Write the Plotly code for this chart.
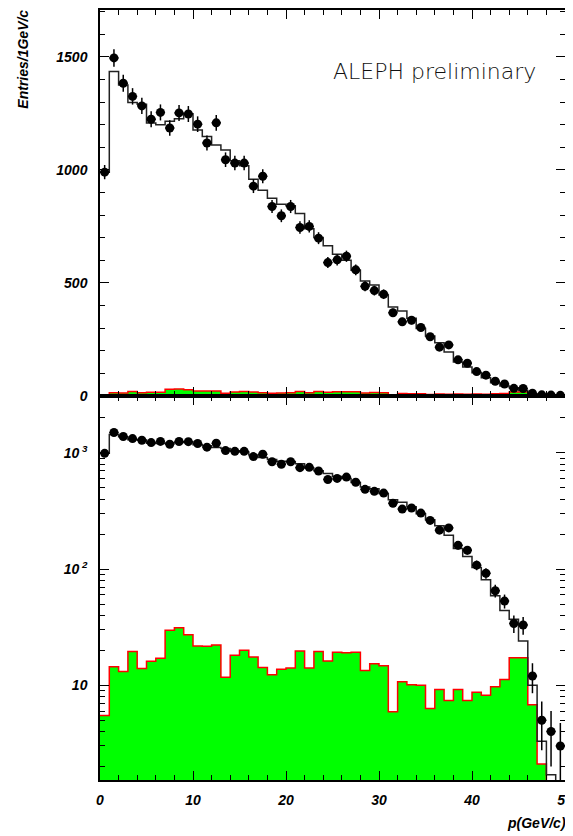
import numpy as np
import plotly.graph_objects as go

# ---- data (1 GeV/c bins, 0..50) ----
bin_edges = list(range(0, 51))
data_counts = [990, 1495, 1383, 1325, 1283, 1224, 1254, 1185, 1252, 1247,
               1202, 1119, 1208, 1045, 1030, 1030, 928, 972, 838, 797,
               838, 745, 750, 698, 590, 602, 618, 558, 485, 466,
               450, 368, 328, 335, 303, 262, 216, 226, 160, 145,
               108, 92, 65, 53, 34, 33, 12, 5, 4, 3]
mc_counts = [990, 1435, 1375, 1298, 1290, 1207, 1200, 1215, 1226, 1248,
             1176, 1148, 1110, 1088, 1040, 1018, 959, 910, 875, 848,
             841, 807, 740, 701, 664, 627, 600, 556, 509, 491,
             447, 394, 376, 344, 299, 265, 236, 195, 150, 128,
             103, 81, 59, 44, 37, 24, 10, 3.3, 1.7, 0.8]
bkg_counts = [5.5, 14.4, 13.1, 19.5, 13.9, 16.1, 17.1, 29.8, 31.3, 27.2,
              21.8, 21.7, 22.2, 11.7, 18.1, 20.0, 17.5, 14.2, 12.3, 13.7,
              14.1, 19.7, 14.1, 19.5, 16.2, 19.2, 19.0, 19.2, 13.4, 15.3,
              14.7, 5.9, 10.7, 10.1, 10.0, 6.3, 9.2, 7.4, 9.2, 7.4,
              8.7, 8.2, 9.7, 11.2, 17.2, 17.2, 6.8, 2.1, 0, 0]
lin_ticks = [0, 500, 1000, 1500]
log_ticks = [10, 100, 1000]
log_ticktext = ["10", "10<sup> 2</sup>", "10<sup> 3</sup>"]
x_ticks = [0, 10, 20, 30, 40, 50]

edges = np.array(bin_edges, dtype=float)
centers = 0.5 * (edges[:-1] + edges[1:])
data = np.array(data_counts, dtype=float)
mc = np.array(mc_counts, dtype=float)
bkg = np.array(bkg_counts, dtype=float)
err = np.sqrt(data)

def step(vals):
    return list(edges), list(vals) + [vals[-1]]

fig = go.Figure()

for xa, ya, logp in (("x", "y", False), ("x2", "y2", True)):
    fig.add_trace(go.Bar(x=centers, y=bkg, width=1.0, marker=dict(color="#00ff00", line=dict(width=0)),
                         xaxis=xa, yaxis=ya, showlegend=False, hoverinfo="skip"))
    bvals = np.where(bkg > 0, bkg, 1e-3) if logp else bkg
    sx, sy = step(bvals)
    fig.add_trace(go.Scatter(x=sx, y=sy, mode="lines", line=dict(color="#ff0000", width=1.5, shape="hv"),
                             xaxis=xa, yaxis=ya, showlegend=False, hoverinfo="skip"))
    sx, sy = step(mc)
    fig.add_trace(go.Scatter(x=sx, y=sy, mode="lines", line=dict(color="#222222", width=1.5, shape="hv"),
                             xaxis=xa, yaxis=ya, showlegend=False, hoverinfo="skip"))
    fig.add_trace(go.Scatter(x=centers, y=data, mode="markers",
                             marker=dict(color="black", size=9, symbol="circle"),
                             error_y=dict(type="data", array=err, color="black", thickness=1.5, width=0),
                             error_x=dict(type="constant", value=0.5, color="black", thickness=1.5, width=0),
                             xaxis=xa, yaxis=ya, showlegend=False, hoverinfo="skip"))

tickfont = dict(family="Liberation Sans", size=14, color="black", weight="bold", style="italic")

# page has an 8px body margin; plot area in page pixels: x 100..566, y 8..780
OFF = 8
W, H = 573 - OFF, 836 - OFF
PX0, PX1, PY0, PY1 = 100, 566, 8, 780
L, R, T, B = PX0 - OFF, W - (PX1 - OFF), PY0 - OFF, H - (PY1 - OFF)
plot_w = PX1 - PX0
plot_h = PY1 - PY0
split = (PY1 - 395) / plot_h

def px(x):
    return (x - PX0) / plot_w

def py(y):
    return (PY1 - y) / plot_h

xcommon = dict(range=[0, 50], showline=True, linecolor="black", linewidth=1.5, mirror="ticks",
               ticks="inside", ticklen=9, tickwidth=1.2, tickcolor="black", tickvals=x_ticks,
               minor=dict(ticks="inside", ticklen=5, dtick=2, tickcolor="black", tickwidth=1.2),
               showgrid=False, zeroline=False, tickfont=tickfont)

fig.update_layout(
    width=W, height=H, margin=dict(l=L, r=R, t=T, b=B),
    paper_bgcolor="white", plot_bgcolor="white", bargap=0, barmode="overlay",
    xaxis=dict(domain=[0, 1], anchor="y", matches="x2", showticklabels=False, **xcommon),
    yaxis=dict(domain=[split, 1], anchor="x", range=[0, 1707], showline=True, linecolor="black",
               linewidth=1.5, mirror="ticks", ticks="inside", ticklen=9, tickwidth=1.2, tickcolor="black",
               tickvals=lin_ticks,
               minor=dict(ticks="inside", ticklen=5, dtick=100, tickcolor="black", tickwidth=1.2),
               showgrid=False, zeroline=False, tickfont=tickfont, ticklabelstandoff=8),
    xaxis2=dict(domain=[0, 1], anchor="y2", showticklabels=True, ticklabelstandoff=6,
                ticklabeloverflow="allow", **xcommon),
    yaxis2=dict(domain=[0, split], anchor="x2", type="log", range=[0.1845, 3.489], showline=True,
                linecolor="black", linewidth=1.5, mirror="ticks", ticks="inside", ticklen=9, tickwidth=1.2,
                tickcolor="black", tickvals=log_ticks, ticktext=log_ticktext,
                minor=dict(ticks="inside", ticklen=5, tickcolor="black", tickwidth=1.2,
                           tickvals=[2, 3, 4, 5, 6, 7, 8, 9, 20, 30, 40, 50, 60, 70, 80, 90,
                                     200, 300, 400, 500, 600, 700, 800, 900, 2000, 3000]),
                showgrid=False, zeroline=False, tickfont=tickfont, ticklabelstandoff=8),
    annotations=[
        dict(text="Entries/1GeV/c", x=px(22), y=py(6), xref="paper", yref="paper",
             xanchor="center", yanchor="top", textangle=-90, showarrow=False,
             font=dict(family="Liberation Sans", size=14, color="black", weight="bold", style="italic")),
        dict(text="p(GeV/c)", x=px(569), y=py(823), xref="paper", yref="paper",
             xanchor="right", yanchor="middle", showarrow=False,
             font=dict(family="Liberation Sans", size=14, color="black", weight="bold", style="italic")),
        dict(text="ALEPH preliminary", x=px(331), y=py(70), xref="paper",
             yref="paper", xanchor="left", yanchor="middle", showarrow=False,
             font=dict(family="DejaVu Sans", size=22, color="#111111", weight=200)),
    ],
)

fig.write_html("out.html")
